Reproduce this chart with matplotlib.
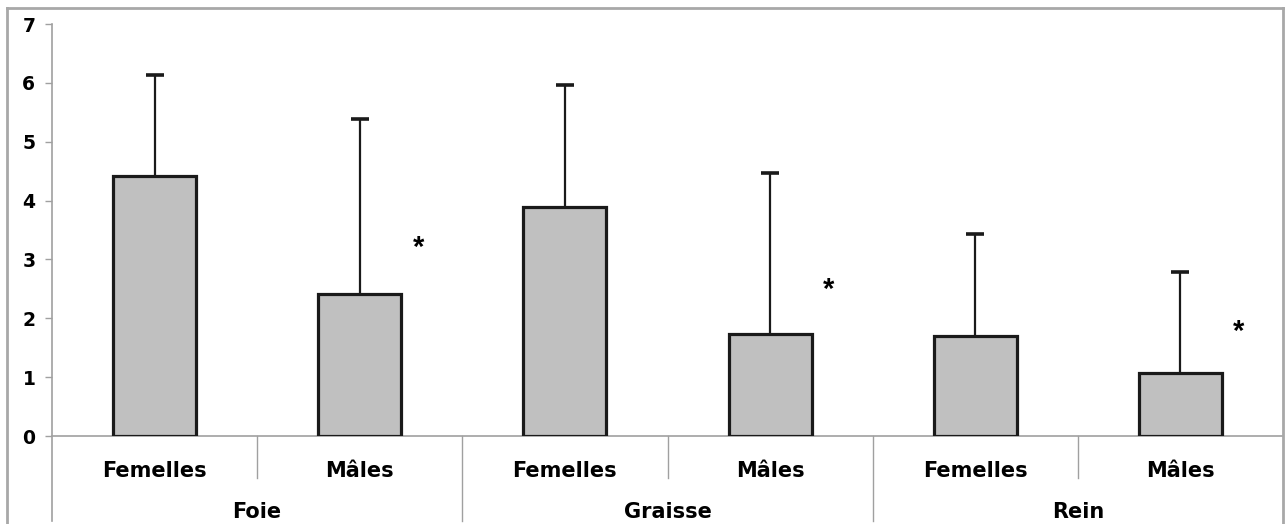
import matplotlib
matplotlib.use("Agg")
import matplotlib.pyplot as plt
from matplotlib.lines import Line2D
import numpy as np

plt.rcParams['font.family'] = ['DejaVu Sans']

groups = ["Foie", "Graisse", "Rein"]
sexes = ["Femelles", "Mâles"]
means = [4.42, 2.41, 3.89, 1.73, 1.70, 1.07]
sd_up = [1.71, 2.97, 2.07, 2.74, 1.73, 1.72]
star_y = [None, 3.19, None, 2.48, None, 1.76]
yticks = [0, 1, 2, 3, 4, 5, 6, 7]

W, H = 1285, 524
fig = plt.figure(figsize=(W / 100, H / 100), dpi=100)
ax = fig.add_axes([52 / W, 88 / H, 1231 / W, 412 / H])

n = len(means)
x = list(range(n))
ax.bar(x, means, width=0.405, color="#c0c0c0", edgecolor="#1a1a1a",
       linewidth=2.3, zorder=3)
eb = ax.errorbar(x, means, yerr=[[0] * n, sd_up], fmt="none", ecolor="#1a1a1a",
                 elinewidth=1.6, capsize=6.5, capthick=2.6, zorder=2)
for cap in eb[1]:
    if np.allclose(cap.get_ydata(), means):
        cap.set_visible(False)

for xi, sy in zip(x, star_y):
    if sy is not None:
        ax.text(xi + 0.285, sy, "*", fontsize=21, fontweight="bold",
                family="Liberation Sans", ha="center", va="center", zorder=4)

ax.set_xlim(-0.5, n - 0.5)
ax.set_ylim(0, 7)
ax.set_yticks(yticks)
ax.set_yticklabels([str(t) for t in yticks], fontsize=13.5, fontweight="bold")
ax.tick_params(axis="y", length=5, width=1, color="#a0a0a0", pad=7)
ax.set_xticks([])

for s in ["top", "right", "left"]:
    ax.spines[s].set_visible(False)
ax.spines["bottom"].set_color("#a0a0a0")
ax.spines["bottom"].set_linewidth(1.2)

bottom_ax = (436 - 521) / 412
gray = "#a0a0a0"
ax.plot([0, 0], [bottom_ax, 1], transform=ax.transAxes, color=gray,
        lw=1.2, clip_on=False)
xt = ax.get_xaxis_transform()
for i in range(1, n):
    if i % 2 == 0:
        ax.plot([i - 0.5, i - 0.5], [0, bottom_ax], transform=xt, color=gray,
                lw=1.0, clip_on=False)
    else:
        ax.plot([i - 0.5, i - 0.5], [0, -42 / 412], transform=xt, color=gray,
                lw=1.0, clip_on=False)

for i in range(n):
    ax.text(i, -35 / 412, sexes[i % 2], transform=xt, ha="center",
            va="center", fontsize=15, fontweight="bold")
for g, name in enumerate(groups):
    ax.text(2 * g + 0.5, -76 / 412, name, transform=xt, ha="center",
            va="center", fontsize=15, fontweight="bold")

fc = "#a8a8a8"
fig.add_artist(Line2D([7 / W, 7 / W], [0, 1 - 8 / H], color=fc, lw=2))
fig.add_artist(Line2D([7 / W, 1283 / W], [1 - 8 / H, 1 - 8 / H], color=fc, lw=2))
fig.add_artist(Line2D([1283 / W, 1283 / W], [0, 1 - 8 / H], color=fc, lw=2))

fig.savefig("out.png", dpi=100)
